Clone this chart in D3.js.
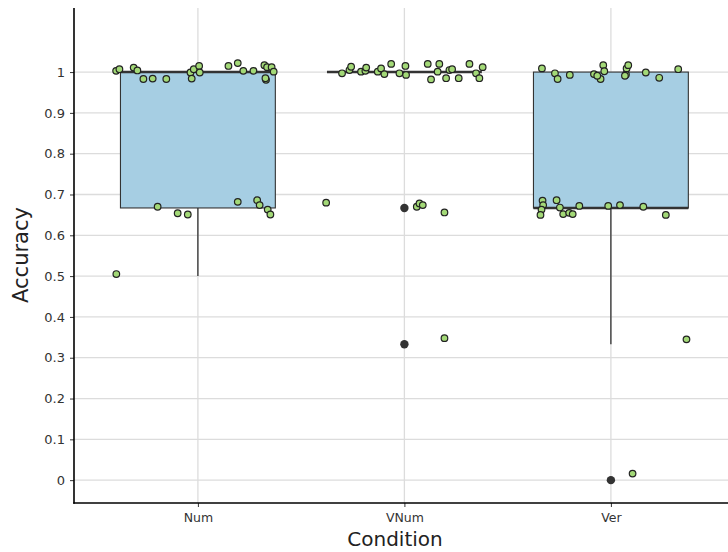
<!DOCTYPE html>
<html>
<head>
<meta charset="utf-8">
<script src="https://cdn.jsdelivr.net/npm/d3@7"></script>
<style>
  body { margin: 0; background: #fff; }
  text { font-family: "DejaVu Sans", sans-serif; }
</style>
</head>
<body>
<div id="chart"></div>
<script>

// categories and box stats
var conditions = ["Num", "VNum", "Ver"];
var boxQ1     = [0.667, 1, 0.667];
var boxMedian = [1, 1, 0.667];
var boxQ3     = [1, 1, 1];
var whiskerLo = [0.5, 1, 0.333];
var whiskerHi = [1, 1, 1];
var outliers  = [[], [0.667, 0.333], [0]];

var yTicks = [0, 0.1, 0.2, 0.3, 0.4, 0.5, 0.6, 0.7, 0.8, 0.9, 1];

// jittered points: [x offset in category units, jittered accuracy]
var numPoints = [
  [-0.396, 1.003], [-0.380, 1.007], [-0.311, 1.011], [-0.293, 1.004], [-0.264, 0.983],
  [-0.219, 0.984], [-0.153, 0.983], [-0.036, 0.999], [-0.030, 0.984], [-0.020, 1.007],
  [0.006, 1.015], [0.009, 0.999], [0.148, 1.015], [0.193, 1.022], [0.220, 1.003],
  [0.269, 1.003], [0.322, 1.017], [0.335, 1.012], [0.357, 1.012], [0.367, 1.001],
  [0.330, 0.981], [0.327, 0.985],
  [-0.195, 0.670], [-0.098, 0.654], [-0.049, 0.651], [0.193, 0.682], [0.287, 0.686],
  [0.299, 0.674], [0.338, 0.663], [0.351, 0.651], [-0.395, 0.505]
];
var vnumPoints = [
  [-0.302, 0.997], [-0.266, 1.005], [-0.258, 1.013], [-0.210, 1.001], [-0.189, 1.003],
  [-0.185, 1.011], [-0.129, 1.001], [-0.113, 1.009], [-0.097, 0.995], [-0.064, 1.020],
  [-0.024, 0.997], [0.005, 1.015], [0.008, 0.993], [0.113, 1.020], [0.129, 0.982],
  [0.161, 1.001], [0.169, 1.020], [0.202, 0.985], [0.218, 1.005], [0.231, 1.007],
  [0.263, 0.985], [0.315, 1.020], [0.347, 0.997], [0.363, 0.985], [0.379, 1.012],
  [-0.379, 0.680], [0.060, 0.670], [0.073, 0.678], [0.089, 0.674], [0.194, 0.656],
  [0.194, 0.348]
];
var verPoints = [
  [-0.334, 1.009], [-0.271, 0.997], [-0.258, 0.983], [-0.199, 0.993], [-0.082, 0.995],
  [-0.037, 1.017], [-0.032, 1.002], [-0.050, 0.983], [-0.066, 0.991], [0.073, 0.994],
  [0.076, 1.009], [0.084, 1.017], [0.068, 0.991], [0.169, 0.999], [0.234, 0.986],
  [0.326, 1.007],
  [-0.331, 0.685], [-0.328, 0.674], [-0.336, 0.663], [-0.341, 0.650], [-0.263, 0.686],
  [-0.247, 0.668], [-0.231, 0.652], [-0.202, 0.655], [-0.185, 0.652], [-0.153, 0.672],
  [-0.013, 0.672], [0.044, 0.674], [0.157, 0.670], [0.266, 0.650],
  [0.366, 0.345], [0.105, 0.016]
];
var pointSets = [numPoints, vnumPoints, verPoints];

var width = 728, height = 552;
var plotLeft = 74, plotTop = 8, plotBottom = 503;

var svg = d3.select("#chart").append("svg")
  .attr("width", width)
  .attr("height", height);

// x: discrete with 0.6 expansion on both sides (plot runs off the right edge)
var x = d3.scalePoint()
  .domain(conditions)
  .range([plotLeft, plotLeft + 3.2 * 206.5])
  .padding(0.6);
var step = x.step();

var y = d3.scaleLinear()
  .domain([-0.056, 1.157])
  .range([plotBottom, plotTop]);

var boxW = 0.75 * step;

// grid
svg.append("g").selectAll("line")
  .data(yTicks)
  .enter().append("line")
  .attr("x1", plotLeft).attr("x2", width)
  .attr("y1", function(d) { return y(d); })
  .attr("y2", function(d) { return y(d); })
  .style("stroke", "#dcdcdc")
  .style("stroke-width", 1.3);

svg.append("g").selectAll("line")
  .data(conditions)
  .enter().append("line")
  .attr("x1", function(d) { return x(d); })
  .attr("x2", function(d) { return x(d); })
  .attr("y1", plotTop).attr("y2", plotBottom)
  .style("stroke", "#dcdcdc")
  .style("stroke-width", 1.3);

// boxplots
var boxes = svg.append("g").selectAll("g")
  .data(conditions)
  .enter().append("g");

boxes.append("line")
  .attr("x1", function(d) { return x(d); })
  .attr("x2", function(d) { return x(d); })
  .attr("y1", function(d, i) { return y(whiskerLo[i]); })
  .attr("y2", function(d, i) { return y(boxQ1[i]); })
  .style("stroke", "#222")
  .style("stroke-width", 1.2);

boxes.append("line")
  .attr("x1", function(d) { return x(d); })
  .attr("x2", function(d) { return x(d); })
  .attr("y1", function(d, i) { return y(whiskerHi[i]); })
  .attr("y2", function(d, i) { return y(boxQ3[i]); })
  .style("stroke", "#222")
  .style("stroke-width", 1.2);

boxes.append("rect")
  .attr("x", function(d) { return x(d) - boxW / 2; })
  .attr("width", boxW)
  .attr("y", function(d, i) { return y(boxQ3[i]); })
  .attr("height", function(d, i) { return y(boxQ1[i]) - y(boxQ3[i]); })
  .style("fill", "#a6cee3")
  .style("stroke", "#333")
  .style("stroke-width", 1.1);

boxes.append("line")
  .attr("x1", function(d) { return x(d) - boxW / 2; })
  .attr("x2", function(d) { return x(d) + boxW / 2; })
  .attr("y1", function(d, i) { return y(boxMedian[i]); })
  .attr("y2", function(d, i) { return y(boxMedian[i]); })
  .style("stroke", "#333")
  .style("stroke-width", 2.6);

boxes.each(function(d, i) {
  d3.select(this).selectAll("circle")
    .data(outliers[i])
    .enter().append("circle")
    .attr("cx", x(d))
    .attr("cy", function(v) { return y(v); })
    .attr("r", 4.2)
    .style("fill", "#333");
});

// jitter points
conditions.forEach(function(c, i) {
  svg.append("g").selectAll("circle")
    .data(pointSets[i])
    .enter().append("circle")
    .attr("cx", function(p) { return x(c) + p[0] * step; })
    .attr("cy", function(p) { return y(p[1]); })
    .attr("r", 3.3)
    .style("fill", "#a3d977")
    .style("stroke", "#222")
    .style("stroke-width", 1.2);
});

// axes
var yAxis = svg.append("g")
  .attr("transform", "translate(" + plotLeft + ",0)")
  .call(d3.axisLeft(y).tickValues(yTicks).tickSize(4).tickPadding(5)
    .tickFormat(function(d) { return d3.format("~g")(d); }));
yAxis.select(".domain").remove();
yAxis.selectAll(".tick line").style("stroke", "#333");
yAxis.selectAll("text").style("font-size", "13px").style("fill", "#333")
  .style("font-family", "DejaVu Sans");

var xAxis = svg.append("g")
  .attr("transform", "translate(0," + plotBottom + ")")
  .call(d3.axisBottom(x).tickSize(4).tickPadding(6));
xAxis.select(".domain").remove();
xAxis.selectAll(".tick line").style("stroke", "#333");
xAxis.selectAll("text").style("font-size", "12.5px").style("fill", "#333")
  .style("font-family", "DejaVu Sans");

svg.append("line")
  .attr("x1", plotLeft).attr("x2", plotLeft)
  .attr("y1", plotTop).attr("y2", plotBottom + 0.75)
  .style("stroke", "#000").style("stroke-width", 1.6);
svg.append("line")
  .attr("x1", plotLeft - 0.75).attr("x2", width)
  .attr("y1", plotBottom).attr("y2", plotBottom)
  .style("stroke", "#000").style("stroke-width", 1.6);

// titles
svg.append("text")
  .attr("transform", "translate(28,255) rotate(-90)")
  .attr("text-anchor", "middle")
  .style("font-size", "21px")
  .style("fill", "#222")
  .text("Accuracy");

svg.append("text")
  .attr("x", 395)
  .attr("y", 546)
  .attr("text-anchor", "middle")
  .style("font-size", "20px")
  .style("fill", "#222")
  .text("Condition");

</script>
</body>
</html>
